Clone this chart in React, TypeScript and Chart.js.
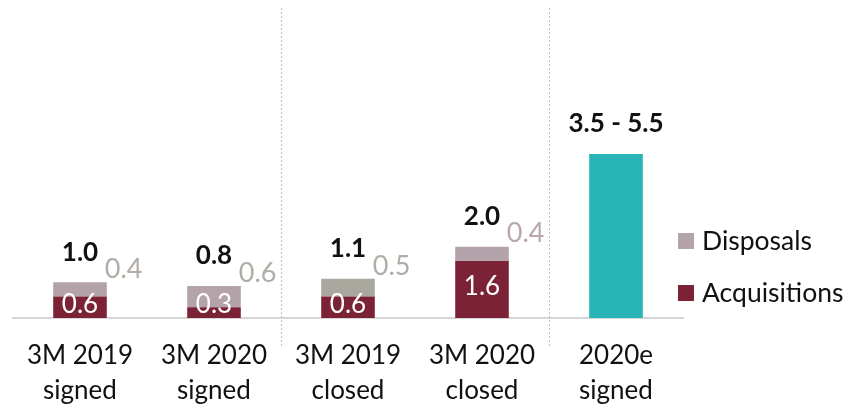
import React, { useEffect, useRef } from "react";
import { Chart, registerables } from "chart.js";

Chart.register(...registerables);

const categories: string[][] = [
  ["3M 2019", "signed"],
  ["3M 2020", "signed"],
  ["3M 2019", "closed"],
  ["3M 2020", "closed"],
  ["2020e", "signed"],
];
const acquisitions = [0.6, 0.3, 0.6, 1.6, null];
const disposals = [0.4, 0.6, 0.5, 0.4, null];
const outlook = [null, null, null, null, 4.6];
const totalLabels = ["1.0", "0.8", "1.1", "2.0", "3.5 - 5.5"];
const acquisitionLabels = ["0.6", "0.3", "0.6", "1.6", ""];
const disposalLabels = ["0.4", "0.6", "0.5", "0.4", ""];

const FONT = "Lato, 'Open Sans', sans-serif";
const ACQ = "#7b2237";
const DISP = "#b4a3aa";
const DISP_GREY = "#aaa79f";
const TEAL = "#27b5b8";
const dispColors = [DISP, DISP, DISP_GREY, DISP, DISP];
const dispLabelColors = ["#b1ada6", "#b1ada6", "#b1ada6", "#b9a7ae", "#b1ada6"];

const labelPlugin = {
  id: "labels",
  afterDatasetsDraw(chart: any) {
    const { ctx, chartArea, scales } = chart;
    const x = scales.x;
    const y = scales.y;
    ctx.save();
    // separators between groups
    ctx.strokeStyle = "#cbbcc3";
    ctx.lineWidth = 1;
    ctx.setLineDash([2, 2]);
    [1.5, 3.5].forEach((v) => {
      const px = Math.round(x.getPixelForValue(v)) + 0.5;
      ctx.beginPath();
      ctx.moveTo(px, chartArea.top);
      ctx.lineTo(px, chartArea.bottom + 30);
      ctx.stroke();
    });
    ctx.setLineDash([]);

    const meta0 = chart.getDatasetMeta(0);
    const meta1 = chart.getDatasetMeta(1);
    const meta2 = chart.getDatasetMeta(2);
    const base = y.getPixelForValue(0);
    categories.forEach((_, i) => {
      const cx = x.getPixelForValue(i);
      const a = acquisitions[i];
      const d = disposals[i];
      const o = outlook[i];
      const el = o != null ? meta2.data[i] : meta1.data[i];
      const top = el.y;
      const right = el.x + el.width / 2;
      // total label
      ctx.fillStyle = "#111111";
      ctx.font = `bold 26px ${FONT}`;
      ctx.textAlign = "center";
      ctx.textBaseline = "middle";
      ctx.fillText(totalLabels[i], cx, top - 30);
      if (a != null) {
        const ael = meta0.data[i];
        const segCenter = (ael.y + base) / 2;
        ctx.fillStyle = "#ffffff";
        ctx.font = `26px ${FONT}`;
        ctx.fillText(acquisitionLabels[i], cx, Math.min(segCenter, base - 10) - 3);
      }
      if (d != null) {
        ctx.fillStyle = dispLabelColors[i];
        ctx.font = `27px ${FONT}`;
        ctx.textAlign = "left";
        ctx.fillText(disposalLabels[i], right - 2, top - 13);
      }
    });

    // legend
    const lx = chartArea.right - 5;
    const items = [
      { text: "Disposals", color: DISP, cy: chartArea.bottom - 77 },
      { text: "Acquisitions", color: ACQ, cy: chartArea.bottom - 25 },
    ];
    items.forEach((it) => {
      ctx.fillStyle = it.color;
      ctx.fillRect(lx, it.cy - 8, 16, 16);
      ctx.fillStyle = "#111111";
      ctx.font = `26.5px ${FONT}`;
      ctx.textAlign = "left";
      ctx.textBaseline = "middle";
      ctx.fillText(it.text, lx + 24, it.cy);
    });
    ctx.restore();
  },
};

export default function App() {
  const ref = useRef<HTMLCanvasElement>(null);
  useEffect(() => {
    if (!ref.current) return;
    const chart = new Chart(ref.current, {
      type: "bar",
      data: {
        labels: categories,
        datasets: [
          {
            label: "Acquisitions",
            data: acquisitions,
            backgroundColor: ACQ,
            stack: "s",
            barPercentage: 0.8,
            categoryPercentage: 0.5,
          },
          {
            label: "Disposals",
            data: disposals,
            backgroundColor: dispColors,
            stack: "s",
            barPercentage: 0.8,
            categoryPercentage: 0.5,
          },
          {
            label: "2020e",
            data: outlook,
            backgroundColor: TEAL,
            stack: "s",
            barPercentage: 0.8,
            categoryPercentage: 0.5,
          },
        ],
      },
      options: {
        responsive: false,
        animation: false,
        devicePixelRatio: 1,
        layout: { padding: { left: 13, right: 163, top: 8, bottom: 0 } },
        plugins: { legend: { display: false }, tooltip: { enabled: false } },
        scales: {
          x: {
            stacked: true,
            grid: { display: false, drawTicks: false },
            border: { display: true, color: "#d6d6d6", width: 2 },
            ticks: {
              color: "#111111",
              font: { family: FONT, size: 26, lineHeight: 1.35 },
              padding: 20,
              maxRotation: 0,
            },
            afterFit: (scale: any) => {
              scale.height = 87;
            },
          },
          y: {
            stacked: true,
            display: false,
            min: 0,
            max: 8.7,
          },
        },
      },
      plugins: [labelPlugin],
    });
    return () => chart.destroy();
  }, []);
  return (
    <div style={{ position: "fixed", left: 0, top: 0, width: 846, height: 405, background: "#fff" }}>
      <canvas ref={ref} width={846} height={405} />
    </div>
  );
}
